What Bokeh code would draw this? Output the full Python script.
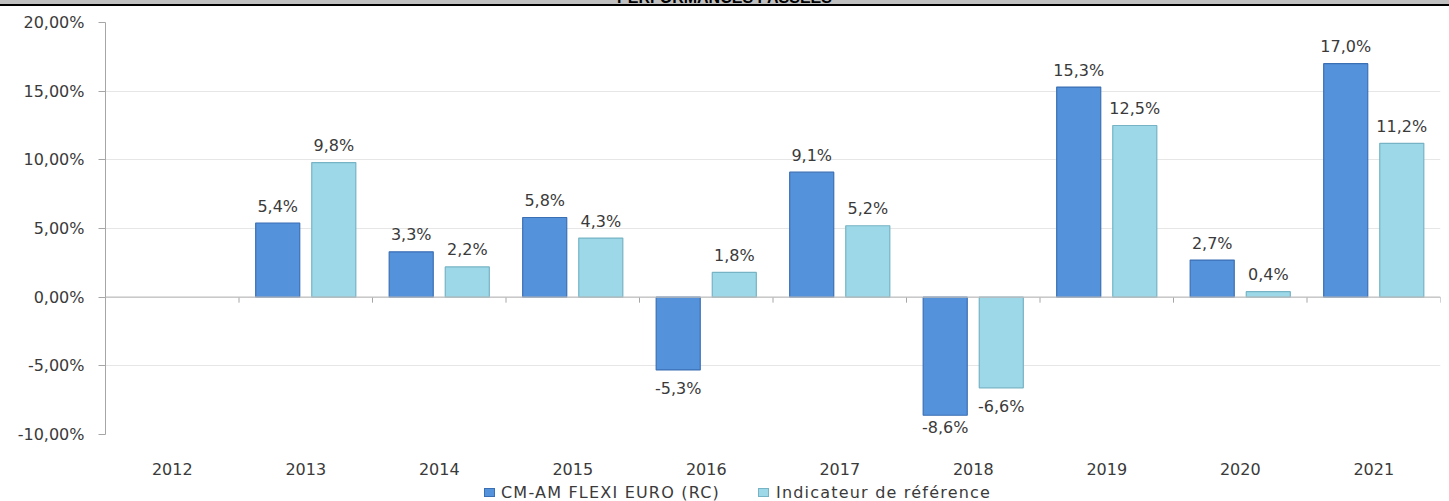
from bokeh.plotting import figure
from bokeh.models import (ColumnDataSource, FactorRange, Range1d, FixedTicker, CustomJSTickFormatter,
                          Span, LabelSet, Div)
from bokeh.core.properties import value
from bokeh.transform import dodge
from bokeh.layouts import column
from bokeh.embed import file_html
from bokeh.resources import INLINE

years = ["2012", "2013", "2014", "2015", "2016", "2017", "2018", "2019", "2020", "2021"]
fund = [float("nan"), 5.4, 3.3, 5.8, -5.3, 9.1, -8.6, 15.3, 2.7, 17.0]
bench = [float("nan"), 9.8, 2.2, 4.3, 1.8, 5.2, -6.6, 12.5, 0.4, 11.2]
y_ticks = [-10, -5, 0, 5, 10, 15, 20]
title_text = "PERFORMANCES PASSEES"
fund_name = "CM-AM FLEXI EURO (RC)"
bench_name = "Indicateur de référence"

FONT = "DejaVu Sans"
TXT = "#3a3a3a"
BLUE_FILL, BLUE_LINE = "#5592dc", "#3b6fb3"
CYAN_FILL, CYAN_LINE = "#9dd8e8", "#76b3c4"
PX_PER_UNIT = 412 / 30.0  # frame height / y span, used to keep labels inside the frame


def fmt(v):
    return "" if v != v else f"{v:.1f}".replace(".", ",") + "%"


def offs(v):
    if v != v:
        return 0
    if v >= 0:
        return 17
    room = (v + 10) * PX_PER_UNIT - 7
    return -min(19, room)


src = ColumnDataSource(dict(
    year=years, fund=fund, bench=bench,
    fund_lbl=[fmt(v) for v in fund], bench_lbl=[fmt(v) for v in bench],
    fund_off=[offs(v) for v in fund], bench_off=[offs(v) for v in bench],
))

p = figure(width=1449, height=478, x_range=FactorRange(*years), y_range=Range1d(-10, 20),
           output_backend="svg", toolbar_location=None, tools="")
p.min_border_left = 105
p.min_border_right = 9
p.min_border_top = 22
p.min_border_bottom = 44
p.outline_line_color = None

# y axis
p.yaxis.ticker = FixedTicker(ticks=y_ticks)
p.yaxis.formatter = CustomJSTickFormatter(code="return tick.toFixed(2).replace('.', ',') + '%';")
p.yaxis.axis_line_color = "#a6a6a6"
p.yaxis.major_tick_line_color = "#a6a6a6"
p.yaxis.major_tick_out = 7
p.yaxis.major_tick_in = 0
p.yaxis.minor_tick_line_color = None
p.yaxis.major_label_text_font = FONT
p.yaxis.major_label_text_font_size = "16px"
p.yaxis.major_label_text_color = TXT
p.yaxis.major_label_standoff = 14

# x axis (labels at the bottom)
p.xaxis.axis_line_color = None
p.xaxis.major_tick_line_color = None
p.xaxis.major_label_text_font = FONT
p.xaxis.major_label_text_font_size = "16px"
p.xaxis.major_label_text_color = TXT
p.xaxis.major_label_standoff = 22

p.xgrid.grid_line_color = None
p.ygrid.grid_line_color = "#e6e6e6"
p.ygrid.ticker = FixedTicker(ticks=y_ticks)

# zero line with category separators
p.add_layout(Span(location=0, dimension="width", line_color="#bfbfbf", line_width=1.2))
p.segment(x0=dodge("year", 0.5, range=p.x_range), x1=dodge("year", 0.5, range=p.x_range),
          y0=0, y1=-0.4, source=src, line_color="#a6a6a6", line_width=1)

r1 = p.vbar(x=dodge("year", -0.21, range=p.x_range), top="fund", bottom=0, width=0.33, source=src,
            fill_color=BLUE_FILL, line_color=BLUE_LINE, line_width=1.2)
r2 = p.vbar(x=dodge("year", 0.21, range=p.x_range), top="bench", bottom=0, width=0.33, source=src,
            fill_color=CYAN_FILL, line_color=CYAN_LINE, line_width=1.2)

for xoff, col, lbl, off in [(-0.21, "fund", "fund_lbl", "fund_off"),
                            (0.21, "bench", "bench_lbl", "bench_off")]:
    p.add_layout(LabelSet(x=dodge("year", xoff, range=p.x_range), y=col, text=lbl, y_offset=off,
                          source=src, text_align="center", text_baseline="middle",
                          text_font=value(FONT), text_font_size="16px", text_color=TXT))

header = Div(text=("<div style=\"position:fixed;top:0;left:0;width:1449px;height:6px;"
                   "background:#c0c0c0;border-bottom:2px solid #000;overflow:hidden;z-index:10;\">"
                   "<div style=\"text-align:center;font:bold 16px 'Liberation Sans',Arial;color:#000;"
                   f"margin-top:-10px;line-height:16px;\">{title_text}</div></div>"),
             width=1449, height=0, margin=0)


def swatch(left, fill, line):
    return (f"<span style=\"position:absolute;left:{left}px;top:10px;width:11px;height:9px;"
            f"background:{fill};border:1px solid {line};box-sizing:border-box;\"></span>")


def label(left, text):
    return (f"<span style=\"position:absolute;left:{left}px;top:5px;line-height:19px;"
            f"letter-spacing:1.2px;white-space:nowrap;\">{text}</span>")


legend_div = Div(text=(f"<div style=\"position:relative;width:1449px;height:23px;"
                       f"font:16px '{FONT}';color:{TXT};\">"
                       + swatch(484, BLUE_FILL, BLUE_LINE) + label(501, fund_name)
                       + swatch(758, CYAN_FILL, CYAN_LINE) + label(776, bench_name)
                       + "</div>"),
                 width=1449, height=23, margin=0)

layout = column(header, p, legend_div, spacing=0)
open("out.html", "w").write(file_html(layout, INLINE))
